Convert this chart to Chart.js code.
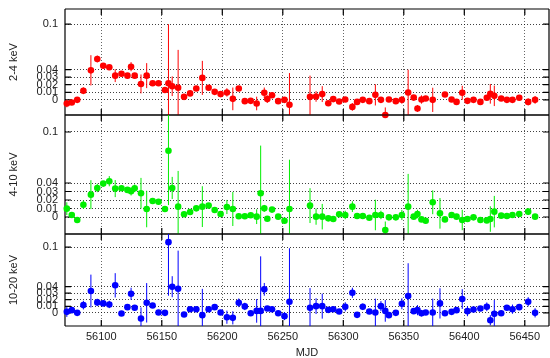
<!DOCTYPE html>
<html>
<head>
<meta charset="utf-8">
<script src="https://cdn.jsdelivr.net/npm/chart.js@4.4.0/dist/chart.umd.min.js"></script>
<style>
html,body{margin:0;padding:0;background:#fff;overflow:hidden}
#wrap{position:relative;width:550px;height:358px;overflow:hidden}
#wrap canvas{position:absolute;left:0;top:0}
</style>
</head>
<body>
<div id="wrap">
  <canvas id="c1" width="553" height="358"></canvas>
  <canvas id="c2" width="553" height="358"></canvas>
  <canvas id="c3" width="553" height="358"></canvas>
</div>
<script>
// dados (MJD e taxas por banda)
const mjd = [56071.5, 56075.6, 56080.1, 56085.2, 56091.4, 56096.7, 56101.6, 56106.6, 56111.5, 56116.7,
  56121.6, 56124.6, 56127.6, 56132.8, 56137.5, 56142.4, 56147.3, 56152.6, 56155.5, 56158.6,
  56163.5, 56168.4, 56173.4, 56178.5, 56183.5, 56188.7, 56193.7, 56198.6, 56203.8, 56208.7,
  56213.6, 56218.6, 56223.5, 56228.4, 56231.7, 56234.7, 56237.2, 56241.1, 56246.2, 56251.4,
  56255.5, 56272.5, 56277.5, 56282.6, 56287.6, 56291.7, 56296.6, 56301.6, 56307.5, 56311.4,
  56316.1, 56321.5, 56326.5, 56331.1, 56334.7, 56337.7, 56343.4, 56348.4, 56353.6, 56358.2,
  56361.3, 56364.6, 56368.1, 56373.9, 56379.9, 56384.0, 56389.5, 56393.6, 56398.3, 56402.6,
  56407.6, 56413.3, 56418.6, 56421.5, 56424.8, 56430.5, 56435.2, 56439.8, 56445.4, 56452.8,
  56458.5];

// 2-4 keV
const soft = [-0.0048, -0.0035, 0, 0.012, 0.039, 0.054, 0.045, 0.043, 0.032, 0.0345,
  0.032, 0.0438, 0.032, 0.021, 0.032, 0.022, 0.022, 0.013, 0.022, 0.018,
  0.016, 0.004, 0.0085, 0.015, 0.029, 0.016, 0.0106, 0.0076, 0.0098, 0.0013,
  0.015, -0.0017, -0.0013, -0.0048, null, 0.0093, 0.001, 0.006, -0.0017, 0,
  -0.0066, 0.004, 0.0045, 0.0076, -0.0044, 0.001, -0.0021, 0.0005, -0.0093, -0.0027,
  0, -0.0017, 0.0066, 0, -0.02, 0.0005, -0.0017, 0, 0.0098, 0.003,
  -0.0114, 0.0005, 0.0018, 0, null, 0.007, 0.0005, -0.0027, 0.0093, -0.0013,
  0, -0.0027, 0.0027, 0.008, 0.0053, 0.0018, 0, 0, 0.0027, -0.0027,
  0];
const softErr = [0.005, 0.003, 0.003, 0.0045, 0.02, 0.0045, 0.003, 0.003, 0.0085, 0.003,
  0.003, 0.006, 0.003, 0.0125, 0.0165, 0.003, 0.003, 0.003, 0.078, 0.013,
  0.05, 0.003, 0.003, 0.003, 0.0225, 0.003, 0.003, 0.003, 0.0055, 0.015,
  0.003, 0.003, 0.003, 0.009, null, 0.007, 0.005, 0.003, 0.003, 0.003,
  0.042, 0.028, 0.007, 0.0105, 0.003, 0.003, 0.003, 0.003, 0.005, 0.003,
  0.003, 0.003, 0.014, 0.003, 0.01, 0.003, 0.003, 0.005, 0.03, 0.003,
  0.0045, 0.0055, 0.003, 0.016, null, 0.003, 0.003, 0.003, 0.0093, 0.003,
  0.003, 0.003, 0.003, 0.013, 0.0135, 0.003, 0.003, 0.003, 0.003, 0.0045,
  0.005];

// 4-10 keV
const mid = [0.0098, 0.0024, -0.0035, 0.0145, 0.0263, 0.0342, 0.0393, 0.0421, 0.0334, 0.0338,
  0.0319, 0.0303, 0.0338, 0.028, 0.0094, 0.0189, 0.018, 0.0094, 0.078, 0.0342,
  0.0122, 0.0032, 0.0059, 0.0102, 0.0122, 0.0134, 0.0083, 0.0035, 0.0118, 0.0094,
  0.0008, 0.0008, 0.002, 0.0004, 0.028, 0.0102, -0.002, 0.0087, 0.0004, -0.0044,
  0.0094, 0.0134, 0.0004, 0.0004, -0.0016, -0.0024, 0.0032, 0.0024, 0.0122, 0.0012,
  0.0012, -0.0008, 0.0024, 0.0024, -0.0153, -0.0004, -0.0004, 0.0024, 0.0122, 0.0004,
  0.0035, -0.0028, -0.0044, 0.0173, 0.0043, -0.0028, 0.0024, 0.0004, -0.0035, -0.0024,
  -0.0004, -0.0035, -0.004, -0.0024, 0.0063, 0.0016, 0.0012, 0.0024, 0.0035, 0.0063,
  0.0004];
const midErr = [0.0075, 0.003, 0.003, 0.005, 0.017, 0.005, 0.003, 0.006, 0.01, 0.003,
  0.003, 0.005, 0.0045, 0.018, 0.0215, 0.003, 0.003, 0.003, 0.064, 0.013,
  0.042, 0.003, 0.003, 0.003, 0.024, 0.003, 0.003, 0.003, 0.0083, 0.02,
  0.003, 0.003, 0.003, 0.0087, 0.056, 0.004, 0.003, 0.003, 0.003, 0.003,
  0.058, 0.0205, 0.0095, 0.015, 0.003, 0.003, 0.003, 0.005, 0.0063, 0.003,
  0.003, 0.003, 0.018, 0.005, 0.01, 0.003, 0.003, 0.006, 0.0385, 0.003,
  0.005, 0.003, 0.003, 0.014, 0.018, 0.003, 0.003, 0.003, 0.012, 0.003,
  0.003, 0.003, 0.003, 0.015, 0.0185, 0.003, 0.003, 0.003, 0.003, 0.004,
  0.003];

// 10-20 keV
const hard = [0.0015, 0.0041, 0, 0.0118, 0.0332, 0.0159, 0.0144, 0.0128, 0.0419, -0.001,
  0.0087, 0.029, 0.0077, -0.0086, 0.0153, 0.0113, 0.0006, 0, 0.1076, 0.0398,
  0.0367, -0.0025, 0.0056, 0.0056, -0.0035, 0.0056, 0.0087, 0.0006, -0.0066, -0.0076,
  0.0153, 0.0098, -0.0005, 0.003, 0.003, 0.0358, 0.0067, 0.0056, -0.0005, -0.005,
  0.0168, 0.0077, 0.0102, 0.0102, 0.0046, 0.0056, 0.0021, 0.0092, 0.0306, -0.003,
  0.0092, 0.0021, 0.0006, 0.0102, 0.003, -0.0035, 0, 0.0138, 0.0255, 0.0026,
  0.0041, -0.0005, 0.0006, 0.0006, 0.0144, -0.0005, 0.0015, 0.0041, 0.021, 0.0026,
  0.0051, 0.0067, 0.0092, -0.0112, -0.0015, -0.0005, 0.0077, 0.0056, 0.0087, 0.0168,
  0];
const hardErr = [0.0077, 0.003, 0.003, 0.0066, 0.025, 0.0056, 0.003, 0.0056, 0.0185, 0.003,
  0.003, 0.0092, 0.003, 0.0168, 0.03, 0.003, 0.003, 0.003, 0.0815, 0.016,
  0.058, 0.003, 0.003, 0.003, 0.04, 0.003, 0.003, 0.003, 0.01, 0.01,
  0.0066, 0.0056, 0.003, 0.018, 0.083, 0.0097, 0.003, 0.003, 0.003, 0.006,
  0.0815, 0.03, 0.012, 0.019, 0.003, 0.003, 0.003, 0.007, 0.0077, 0.003,
  0.005, 0.003, 0.021, 0.0077, 0.0165, 0.003, 0.003, 0.0083, 0.05, 0.003,
  0.0077, 0.005, 0.003, 0.021, 0.023, 0.003, 0.003, 0.003, 0.015, 0.0077,
  0.003, 0.003, 0.0066, 0.0077, 0.021, 0.003, 0.003, 0.007, 0.003, 0.007,
  0.007];

const yTicks = [0, 0.01, 0.02, 0.03, 0.04, 0.1];
const xTicks = [56100, 56150, 56200, 56250, 56300, 56350, 56400, 56450];

const FONT = 'Liberation Sans, Arial, Helvetica, sans-serif';
const H = 358;

// barras de erro + moldura com ticks para dentro (estilo gnuplot)
function panelPlugin(values, errs, color){
  return {
    id: 'panel',
    beforeDatasetsDraw(chart){
      const {ctx, chartArea: a, scales: {x, y}} = chart;
      // moldura
      ctx.save();
      ctx.strokeStyle = '#000';
      ctx.lineWidth = 1.2;
      ctx.beginPath();
      ctx.moveTo(a.left, a.top); ctx.lineTo(a.right, a.top);
      ctx.moveTo(a.left, a.bottom); ctx.lineTo(a.right, a.bottom);
      ctx.moveTo(a.left, a.top); ctx.lineTo(a.left, a.bottom);
      ctx.moveTo(a.right, a.top); ctx.lineTo(a.right, a.bottom);
      xTicks.forEach(t => {
        const px = x.getPixelForValue(t);
        ctx.moveTo(px, a.bottom); ctx.lineTo(px, a.bottom - 6);
        ctx.moveTo(px, a.top); ctx.lineTo(px, a.top + 6);
      });
      yTicks.forEach(t => {
        const py = y.getPixelForValue(t);
        ctx.moveTo(a.left, py); ctx.lineTo(a.left + 6, py);
        ctx.moveTo(a.right, py); ctx.lineTo(a.right - 6, py);
      });
      ctx.stroke();
      ctx.restore();

      // barras de erro
      ctx.save();
      ctx.beginPath();
      ctx.rect(a.left, a.top, a.right - a.left, a.bottom - a.top);
      ctx.clip();
      ctx.strokeStyle = color;
      ctx.lineWidth = 1;
      mjd.forEach((m, i) => {
        const v = values[i], e = errs[i];
        if(v == null || !e) return;
        const px = x.getPixelForValue(m);
        ctx.beginPath();
        ctx.moveTo(px, y.getPixelForValue(v + e));
        ctx.lineTo(px, y.getPixelForValue(v - e));
        ctx.stroke();
      });
      ctx.restore();
    }
  };
}

function makePanel(id, values, errs, color, label, top, bottom, isBottom){
  const pts = [];
  mjd.forEach((m, i) => { if(values[i] != null) pts.push({x: m, y: values[i]}); });
  return new Chart(document.getElementById(id), {
    type: 'scatter',
    data: { datasets: [{ data: pts, backgroundColor: color, borderWidth: 0, pointRadius: 3.3, clip: false }] },
    options: {
      responsive: false,
      animation: false,
      devicePixelRatio: 1,
      layout: { padding: { top: top, bottom: isBottom ? 0 : H - bottom, left: 0, right: 1 } },
      plugins: { legend: { display: false }, tooltip: { enabled: false } },
      scales: {
        x: {
          type: 'linear', min: 56070, max: 56470,
          afterBuildTicks: s => { s.ticks = xTicks.map(v => ({value: v})); },
          afterFit: s => {
            s.height = isBottom ? H - bottom : 0;
            s.paddingLeft = 0; s.paddingRight = 0;
          },
          grid: { color: 'rgba(0,0,0,0.6)', lineWidth: 1, drawTicks: false },
          border: { display: false, dash: [1, 2] },
          ticks: {
            display: isBottom, autoSkip: false, maxRotation: 0, padding: 4,
            color: '#222', font: { family: FONT, size: 11 },
            callback: v => String(v)
          },
          title: {
            display: isBottom, text: 'MJD', color: '#222',
            font: { family: FONT, size: 11, lineHeight: 0.9 }, padding: { top: 0, bottom: 0 }
          }
        },
        y: {
          type: 'linear', min: -0.02, max: 0.12,
          afterBuildTicks: s => { s.ticks = yTicks.map(v => ({value: v})); },
          afterFit: s => {
            s.width = 65;
            s.paddingTop = 0; s.paddingBottom = 0;
          },
          grid: { color: 'rgba(0,0,0,0.75)', lineWidth: 1, drawTicks: false },
          border: { display: false, dash: [1, 2] },
          ticks: {
            autoSkip: false, padding: 7, color: '#222',
            font: { family: FONT, size: 11 },
            callback: v => String(v)
          },
          title: {
            display: true, text: label, color: '#222',
            font: { family: FONT, size: 11 }, padding: { top: 7, bottom: 0 }
          }
        }
      }
    },
    plugins: [panelPlugin(values, errs, color)]
  });
}

makePanel('c1', soft, softErr, '#ff0000', '2-4 keV', 9, 115, false);
makePanel('c2', mid, midErr, '#00ee00', '4-10 keV', 115, 234, false);
makePanel('c3', hard, hardErr, '#0000ff', '10-20 keV', 234, 326, true);
</script>
</body>
</html>
